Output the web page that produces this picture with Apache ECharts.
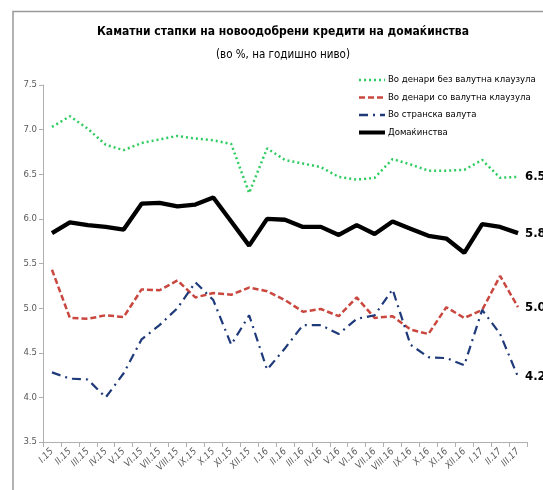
<!DOCTYPE html>
<html><head><meta charset="utf-8">
<script src="https://cdn.jsdelivr.net/npm/echarts@6/dist/echarts.min.js"></script>
<style>html,body{margin:0;padding:0;background:#fff}#c{width:543px;height:490px}</style>
</head><body><div id="c"></div>
<script>
const categories = ['I.15','II.15','III.15','IV.15','V.15','VI.15','VII.15','VIII.15','IX.15','X.15','XI.15','XII.15','I.16','II.16','III.16','IV.16','V.16','VI.16','VII.16','VIII.16','IX.16','X.16','XI.16','XII.16','I.17','II.17','III.17'];
const denNoClause = [7.03,7.15,7.01,6.83,6.77,6.85,6.89,6.93,6.90,6.88,6.84,6.29,6.79,6.66,6.62,6.58,6.47,6.44,6.46,6.67,6.61,6.54,6.54,6.55,6.66,6.46,6.47];
const denClause = [5.43,4.89,4.88,4.92,4.90,5.21,5.20,5.31,5.12,5.17,5.15,5.23,5.19,5.09,4.96,4.99,4.91,5.12,4.89,4.91,4.76,4.71,5.01,4.89,4.98,5.36,5.01];
const foreign = [4.28,4.21,4.20,4.00,4.27,4.65,4.81,5.00,5.29,5.09,4.59,4.92,4.31,4.55,4.81,4.81,4.71,4.88,4.92,5.21,4.59,4.45,4.44,4.36,4.98,4.71,4.23];
const households = [5.84,5.96,5.93,5.91,5.88,6.17,6.18,6.14,6.16,6.24,5.97,5.70,6.00,5.99,5.91,5.91,5.82,5.93,5.83,5.97,5.89,5.81,5.78,5.62,5.94,5.91,5.84];
const seriesNames = ['Во денари без валутна клаузула','Во денари со валутна клаузула','Во странска валута','Домаќинства'];
const FONT = "'DejaVu Sans Condensed','Liberation Sans',sans-serif";

const chart = echarts.init(document.getElementById('c'));
function endLbl(){return {show:true, distance:7, fontFamily:FONT, fontWeight:'bold', fontSize:13, color:'#000', formatter:p=>Number(p.value).toFixed(1)};}
chart.setOption({
  animation:false,
  title:[{text:'Каматни стапки на новоодобрени кредити на домаќинства', left:278, top:21, textAlign:'center',
    textStyle:{fontFamily:FONT, fontSize:12, fontWeight:'bold', color:'#000'}},
    {text:'(во %, на годишно ниво)', left:278, top:44, textAlign:'center',
    textStyle:{fontFamily:FONT, fontSize:11.5, fontWeight:'normal', color:'#000'}}],
  graphic:[{type:'polyline', shape:{points:[[13,490],[13,11.5],[543,11.5]]}, style:{stroke:'#999', lineWidth:1.5, fill:null}}],
  legend:{orient:'vertical', left:357, top:75, itemWidth:26, itemHeight:10, itemGap:7.5, padding:0,
    itemStyle:{opacity:0},
    textStyle:{fontFamily:FONT, fontSize:9.5, color:'#000', padding:[0,0,0,-2]},
    data:[
      {name:seriesNames[0], lineStyle:{width:2.5}},
      {name:seriesNames[1], lineStyle:{width:2.5}},
      {name:seriesNames[2], lineStyle:{width:2.5}},
      {name:seriesNames[3], lineStyle:{width:4}}
    ]},
  grid:{left:43, right:16, top:85, bottom:48},
  xAxis:{type:'category', data:categories, boundaryGap:true,
    axisLine:{lineStyle:{color:'#b0b0b0'}}, axisTick:{show:true, length:5, lineStyle:{color:'#b0b0b0'}},
    axisLabel:{rotate:45, fontFamily:FONT, fontStyle:'italic', fontSize:9.5, color:'#595959', margin:8, interval:0}},
  yAxis:{type:'value', min:3.5, max:7.5, interval:0.5, splitLine:{show:false},
    axisLine:{show:true, lineStyle:{color:'#b0b0b0'}}, axisTick:{show:true, length:4, lineStyle:{color:'#b0b0b0'}},
    axisLabel:{fontFamily:FONT, fontSize:9.5, color:'#595959', formatter:v=>v.toFixed(1), margin:6}},
  series:[
    {name:seriesNames[0], type:'line', data:denNoClause, symbol:'none', lineStyle:{color:'#2ecc5e', width:2.5, type:[2,3]}, itemStyle:{color:'#2ecc5e'}, endLabel:endLbl()},
    {name:seriesNames[1], type:'line', data:denClause, symbol:'none', lineStyle:{color:'#c9473f', width:2.5, type:[6,3]}, itemStyle:{color:'#c9473f'}, endLabel:endLbl()},
    {name:seriesNames[2], type:'line', data:foreign, symbol:'none', lineStyle:{color:'#1f3a7a', width:2.2, type:[9,5,2,5]}, itemStyle:{color:'#1f3a7a'}, endLabel:endLbl()},
    {name:seriesNames[3], type:'line', data:households, symbol:'none', lineStyle:{color:'#000', width:4.3}, itemStyle:{color:'#000'}, endLabel:endLbl(), z:5}
  ]
});
</script></body></html>
